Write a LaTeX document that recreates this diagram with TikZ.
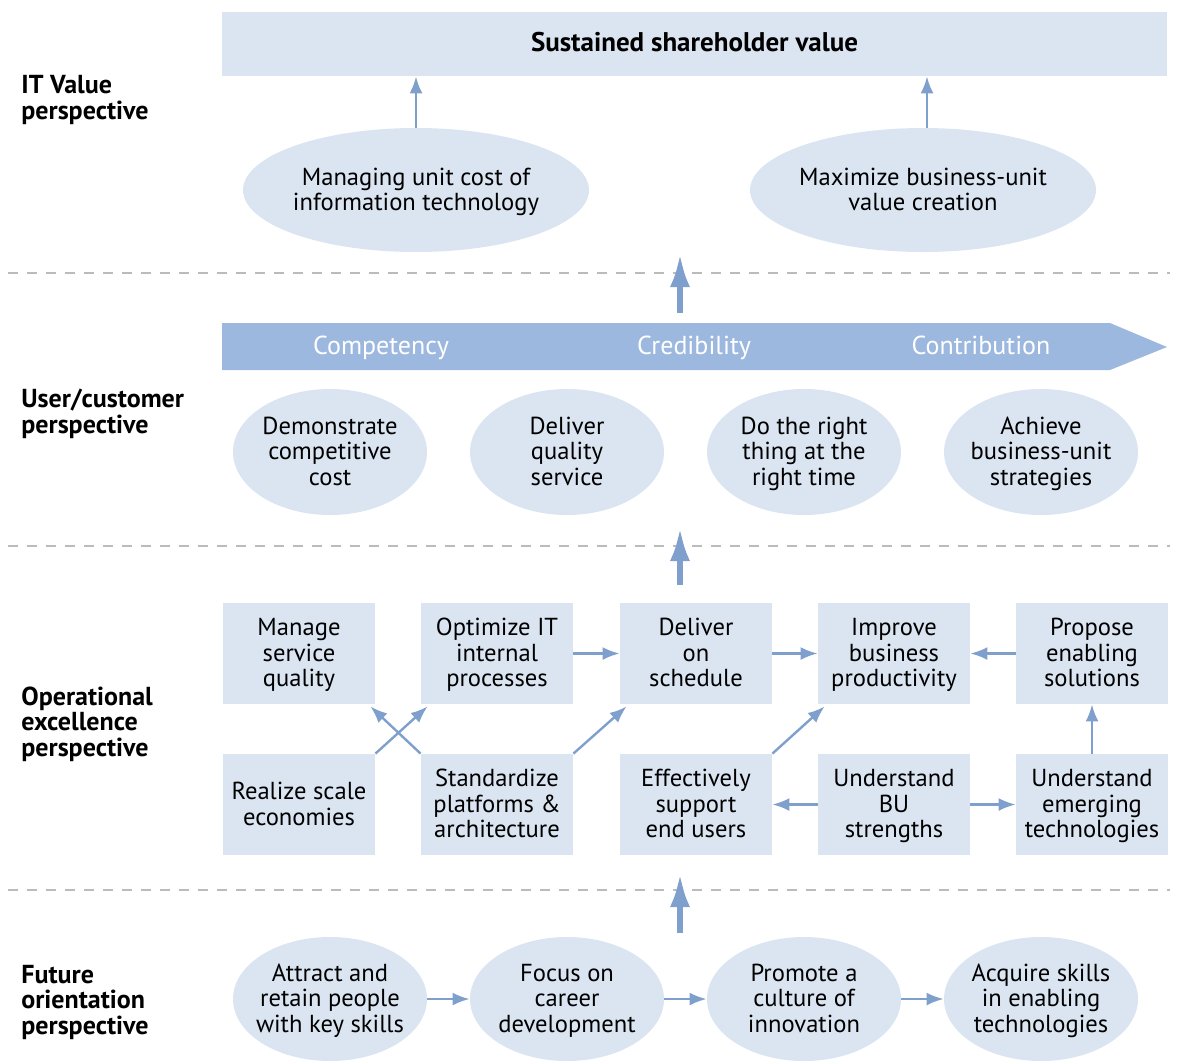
\documentclass[tikz,border=0pt]{standalone}
\usepackage{fontspec}
\setmainfont{PT Sans}
\usetikzlibrary{shapes.geometric,arrows.meta}
\definecolor{bleuclair}{HTML}{DAE5F1}
\definecolor{bleufleche}{HTML}{7F9FCC}
\definecolor{bleubandeau}{HTML}{9DB8DF}
\definecolor{gristrait}{HTML}{BBBBBB}
\newcommand\haut{\rule{0pt}{11.8pt}}
\tikzstyle{texte}=[align=center,font=\fontsize{12.3}{12.75}\selectfont]
\tikzstyle{ovale}=[texte,ellipse,fill=bleuclair,minimum width=97pt,minimum height=63pt,inner sep=-3pt]
\tikzstyle{grandovale}=[ovale,minimum width=173pt,minimum height=62pt]
\tikzstyle{boite}=[texte,rectangle,fill=bleuclair,minimum width=76pt,minimum height=50.5pt,inner sep=0pt]
\tikzstyle{persp}=[anchor=west,align=left,inner sep=0pt,font=\fontsize{13}{12.75}\selectfont\bfseries]
\tikzstyle{fleche}=[draw=bleufleche,line width=1.2pt,-{Latex[length=8.5pt,width=6.5pt]}]
\tikzstyle{grossefleche}=[draw=bleufleche,line width=3pt,-{Latex[length=17pt,width=10pt]}]
\tikzstyle{separation}=[draw=gristrait,line width=0.6pt,dash pattern=on 5pt off 4.5pt]

\begin{document}
\begin{tikzpicture}[x=0.5pt,y=-0.5pt]
    \useasboundingbox (0,0) rectangle (1177,1062);
    % perspectives
    \node[persp] (pit) at (21,100) {IT Value\\perspective};
    \node[persp] (puc) at (21,414) {User/customer\\perspective};
    \node[persp] (pop) at (21,724) {Operational\\excellence\\perspective};
    \node[persp] (pfo) at (21,1002) {Future\\orientation\\perspective};
    % separations
    \foreach \y in {273,546,890}
        \path[separation] (8,\y) -- (1170,\y);
    % valeur
    \node[boite,minimum width=472.5pt,minimum height=32pt,font=\fontsize{13.5}{12.75}\selectfont\bfseries] (sv) at (694.5,44) {\haut Sustained shareholder value\strut};
    \node[grandovale] (cout) at (416,190) {\haut Managing unit cost of\\information technology\strut};
    \node[grandovale] (crea) at (923,190) {\haut Maximize business-unit\\value creation\strut};
    \path[fleche] (cout.north) -- (cout.north |- sv.south);
    \path[fleche] ([xshift=2pt]crea.north) -- ([xshift=2pt]crea.north |- sv.south);
    % bandeau
    \fill[bleubandeau] (222,323) -- (1110,323) -- (1167,347) -- (1110,370) -- (222,370) -- cycle;
    \foreach \pos/\name/\txt in {{(381,347)/comp/Competency}, {(694,347)/cred/Credibility}, {(981,347)/cont/Contribution}}
        \node[texte,text=white,font=\fontsize{13}{13}\selectfont] (\name) at \pos {\haut\txt\strut};
    % utilisateur
    \foreach \pos/\name/\txt in {{(330,452)/dem/Demonstrate\\competitive\\cost}, {(567,452)/dqs/Deliver\\quality\\service}, {(804,452)/drt/Do the right\\thing at the\\right time}, {(1041,452)/abu/Achieve\\business-unit\\strategies}}
        \node[ovale] (\name) at \pos {\haut\txt\strut};
    % operationnel
    \foreach \pos/\name/\txt in {{(299,653.5)/msq/Manage\\service\\quality}, {(497,653.5)/oit/Optimize IT\\internal\\processes}, {(696,653.5)/dos/Deliver\\on\\schedule}, {(894,653.5)/ibp/Improve\\business\\productivity}, {(1092,653.5)/pes/Propose\\enabling\\solutions}, {(299,804.5)/rse/Realize scale\\economies}, {(497,804.5)/spa/Standardize\\platforms \&\\architecture}, {(696,804.5)/esu/Effectively\\support\\end users}, {(894,804.5)/ubu/Understand\\BU\\strengths}, {(1092,804.5)/uet/Understand\\emerging\\technologies}}
        \node[boite] (\name) at \pos {\haut\txt\strut};
    \foreach \source/\dest in {oit/dos, dos/ibp, pes/ibp, ubu/esu, ubu/uet}
        \path[fleche] (\source) -- (\dest);
    \path[fleche] (uet.north) -- (pes.south);
    \path[fleche] (rse.north east) -- ([xshift=3.5pt,yshift=-1pt]oit.south west);
    \path[fleche] (spa.north west) -- ([xshift=-2.5pt,yshift=-1pt]msq.south east);
    \path[fleche] (spa.north east) -- ([xshift=3.5pt,yshift=-1pt]dos.south west);
    \path[fleche] (esu.north east) -- ([xshift=3.5pt,yshift=-1pt]ibp.south west);
    % avenir
    \foreach \pos/\name/\txt in {{(330,999)/arp/Attract and\\retain people\\with key skills}, {(567,999)/fcd/Focus on\\career\\development}, {(804,999)/pci/Promote a\\culture of\\innovation}, {(1041,999)/ase/Acquire skills\\in enabling\\technologies}}
        \node[ovale,minimum height=62pt] (\name) at \pos {\haut\txt\strut};
    \foreach \source/\dest in {arp/fcd, fcd/pci, pci/ase}
        \path[fleche] (\source) -- (\dest);
    % grosses fleches
    \foreach \bas/\haut/\yb/\yh in {b1/h1/313/253, b2/h2/585/527, b3/h3/933/873} {
        \coordinate (\bas) at (680,\yb);
        \coordinate (\haut) at (680,\yh);
        \path[grossefleche] (\bas) -- (\haut);
    }
\end{tikzpicture}
\end{document}
